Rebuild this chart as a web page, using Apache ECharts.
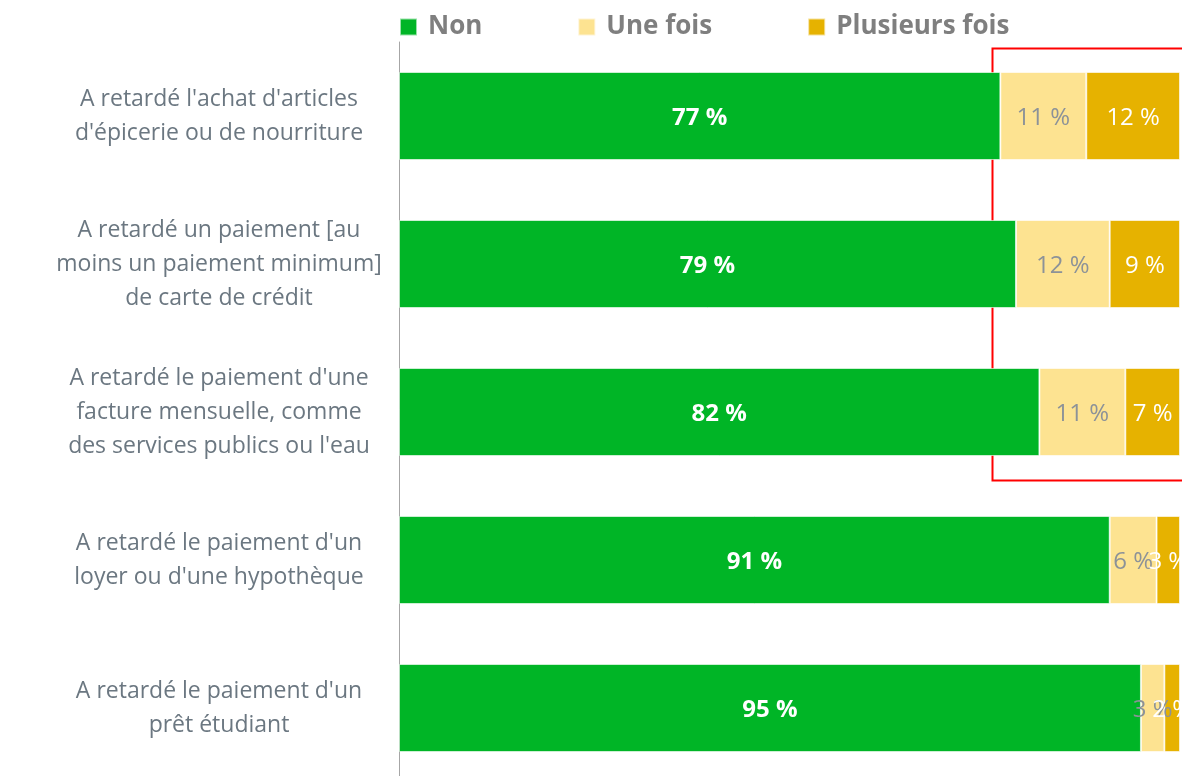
<!DOCTYPE html>
<html>
<head>
<meta charset="utf-8">
<script src="https://cdn.jsdelivr.net/npm/echarts@6/dist/echarts.min.js"></script>
<style>
  html, body { margin: 0; padding: 0; background: #fff; }
  #chart { width: 1182px; height: 776px; }
</style>
</head>
<body>
<div id="chart"></div>
<script>
const categories = [
  "A retardé l'achat d'articles\nd'épicerie ou de nourriture",
  "A retardé un paiement [au\nmoins un paiement minimum]\nde carte de crédit",
  "A retardé le paiement d'une\nfacture mensuelle, comme\ndes services publics ou l'eau",
  "A retardé le paiement d'un\nloyer ou d'une hypothèque",
  "A retardé le paiement d'un\nprêt étudiant"
];
const nonValues = [77, 79, 82, 91, 95];
const uneFoisValues = [11, 12, 11, 6, 3];
const plusieursValues = [12, 9, 7, 3, 2];

const font = "'Open Sans', 'Noto Sans', sans-serif";

const chart = echarts.init(document.getElementById('chart'));

const makeSeries = (name, data, color, labelColor, bold) => ({
  name,
  type: 'bar',
  stack: 'total',
  data,
  barWidth: 88,
  itemStyle: { color, borderColor: 'rgba(255,255,255,0.6)', borderWidth: 1 },
  label: {
    show: true,
    position: 'inside',
    offset: [0, 2],
    formatter: p => p.value + ' %',
    color: labelColor,
    fontFamily: font,
    fontSize: 24,
    fontWeight: bold ? 'bold' : 'normal'
  }
});

chart.setOption({
  animation: false,
  backgroundColor: '#fff',
  legend: {
    left: 399,
    top: 14,
    padding: 0,
    itemWidth: 17,
    itemHeight: 17,
    itemGap: 95,
    icon: 'rect',
    textStyle: { color: '#7f7f7f', fontSize: 26, fontWeight: 'bold', fontFamily: font, padding: [0, 0, 0, 6] }
  },
  grid: { left: 399, right: 2, top: 42, height: 740, outerBoundsMode: 'none' },
  xAxis: { type: 'value', min: 0, max: 100, show: false },
  yAxis: {
    type: 'category',
    data: categories,
    inverse: true,
    axisLine: { show: true, lineStyle: { color: '#a6a6a6', width: 1 } },
    axisTick: { show: false },
    axisLabel: {
      color: '#6b7781',
      fontFamily: font,
      fontSize: 23,
      lineHeight: 34,
      align: 'center',
      margin: 180
    }
  },
  series: [
    makeSeries('Non', nonValues, '#00b526', '#ffffff', true),
    makeSeries('Une fois', uneFoisValues, '#fde391', '#8c9298', false),
    makeSeries('Plusieurs fois', plusieursValues, '#e6b200', '#ffffff', false)
  ],
  graphic: [{
    type: 'rect',
    left: 990,
    top: 46,
    shape: { width: 210, height: 432 },
    style: { fill: 'none', stroke: '#ff0000', lineWidth: 2 }
  }]
});
</script>
</body>
</html>
